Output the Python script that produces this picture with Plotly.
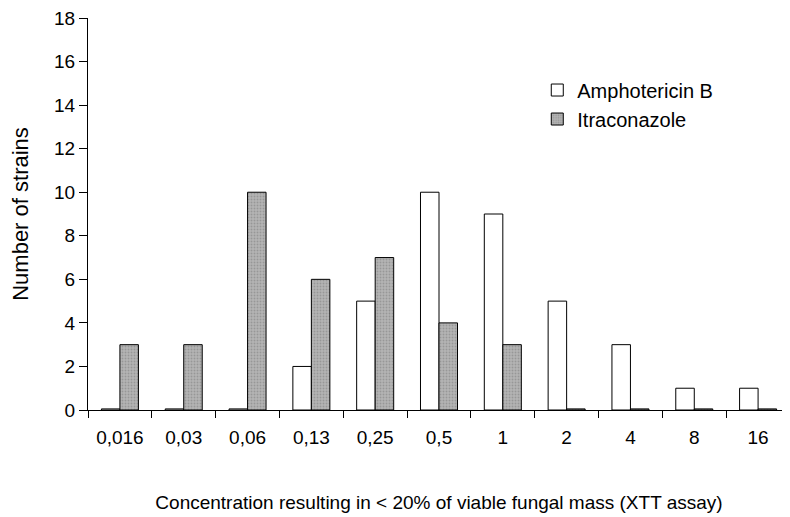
import plotly.graph_objects as go

categories = ["0,016", "0,03", "0,06", "0,13", "0,25", "0,5", "1", "2", "4", "8", "16"]
amphotericin = [0.05, 0.05, 0.05, 2, 5, 10, 9, 5, 3, 1, 1]
itraconazole = [3, 3, 10, 6, 7, 4, 3, 0.05, 0.05, 0.05, 0.05]
y_ticks = [0, 2, 4, 6, 8, 10, 12, 14, 16, 18]

fig = go.Figure()
fig.add_trace(go.Bar(x=categories, y=amphotericin, name="Amphotericin B",
                     marker=dict(color="white", line=dict(color="black", width=1))))
fig.add_trace(go.Bar(x=categories, y=itraconazole, name="Itraconazole",
                     marker=dict(color="#b4b4b4", line=dict(color="black", width=1),
                                 pattern=dict(shape=".", fgcolor="#7a7a7a", size=3, solidity=0.3))))

font = "Liberation Sans, Arial, sans-serif"
fig.update_layout(
    width=790, height=517,
    margin=dict(l=80, r=8, t=10, b=115),
    paper_bgcolor="white", plot_bgcolor="white",
    barmode="group", bargap=0.42, bargroupgap=0,
    font=dict(family=font, size=19, color="black"),
    legend=dict(x=0.64, y=0.866, xanchor="left", yanchor="top",
                font=dict(size=20), bgcolor="rgba(0,0,0,0)",
                itemwidth=30, tracegroupgap=0),
    showlegend=True,
)
fig.update_xaxes(
    type="category", showline=True, linecolor="black", linewidth=1,
    ticks="outside", tickson="boundaries", ticklen=7, tickcolor="black",
    tickfont=dict(size=19), showgrid=False, automargin=False,
    ticklabelstandoff=10,
    title=dict(text="Concentration resulting in < 20% of viable fungal mass (XTT assay)",
               font=dict(size=19), standoff=48),
)
fig.update_yaxes(
    range=[0, 18], tickvals=y_ticks, showline=True, linecolor="black", linewidth=1,
    ticks="outside", ticklen=8, tickcolor="black", showgrid=False, zeroline=False,
    tickfont=dict(size=19), automargin=False, ticklabeloverflow="allow",
    title=dict(text="Number of strains", font=dict(size=22), standoff=26),
)
fig.write_html("out.html")
